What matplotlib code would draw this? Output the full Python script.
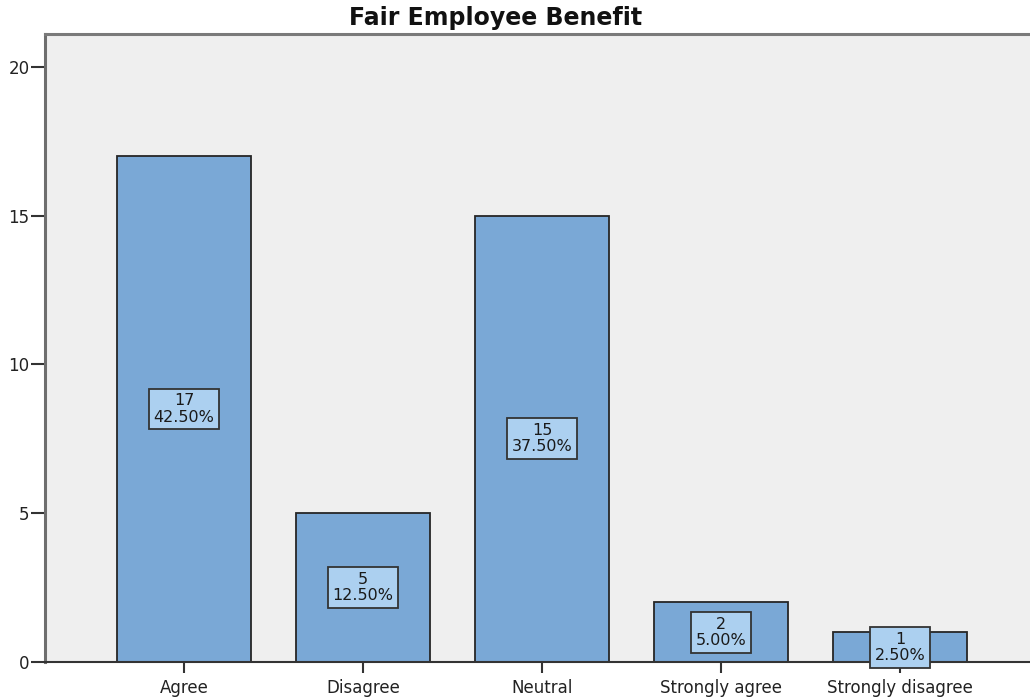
import matplotlib
matplotlib.use("Agg")
import matplotlib.pyplot as plt

categories = ["Agree", "Disagree", "Neutral", "Strongly agree", "Strongly disagree"]
counts = [17, 5, 15, 2, 1]
percents = [42.50, 12.50, 37.50, 5.00, 2.50]
yticks = [0, 5, 10, 15, 20]

plt.rcParams["font.family"] = ["DejaVu Sans"]

W, H = 1030, 697
fig = plt.figure(figsize=(W / 100, H / 100), dpi=100)
fig.patch.set_facecolor("white")

left, right, top, bottom = 45, 1030, 34, 662
ax = fig.add_axes([left / W, 1 - bottom / H, (right - left) / W, (bottom - top) / H])
ax.set_facecolor("#efefef")

x = list(range(len(categories)))
ax.bar(x, counts, width=0.75, color="#7aa8d6", edgecolor="#262626", linewidth=1.3, zorder=2)

for xi, c, p in zip(x, counts, percents):
    ax.text(xi, c / 2, f"{c}\n{p:.2f}%", ha="center", va="center", fontsize=11.5,
            color="#1a1a1a", linespacing=1.1, zorder=3,
            bbox=dict(boxstyle="square,pad=0.3", facecolor="#acd0f0",
                      edgecolor="#333333", linewidth=1.3))

ax.set_xlim(-0.777, 4.726)
ax.set_ylim(0, 21.1)
ax.set_yticks(yticks)
ax.set_yticklabels([str(v) for v in yticks], fontsize=12, color="#222222")
ax.set_xticks(x)
ax.set_xticklabels(categories, fontsize=12, color="#222222")
ax.tick_params(axis="y", length=10, width=1.5, color="#333333", pad=1)
ax.tick_params(axis="x", length=8, width=1.5, color="#333333", pad=4)

ax.spines["right"].set_visible(False)
ax.spines["left"].set_color("#6e6e6e")
ax.spines["left"].set_linewidth(2.2)
ax.spines["top"].set_color("#7a7a7a")
ax.spines["top"].set_linewidth(2.2)
ax.spines["bottom"].set_color("#333333")
ax.spines["bottom"].set_linewidth(1.5)

fig.text(496 / W, 1 - 18 / H, "Fair Employee Benefit", ha="center", va="center",
         fontsize=17, fontweight="bold", color="#111111")

fig.savefig("out.png", dpi=100)
